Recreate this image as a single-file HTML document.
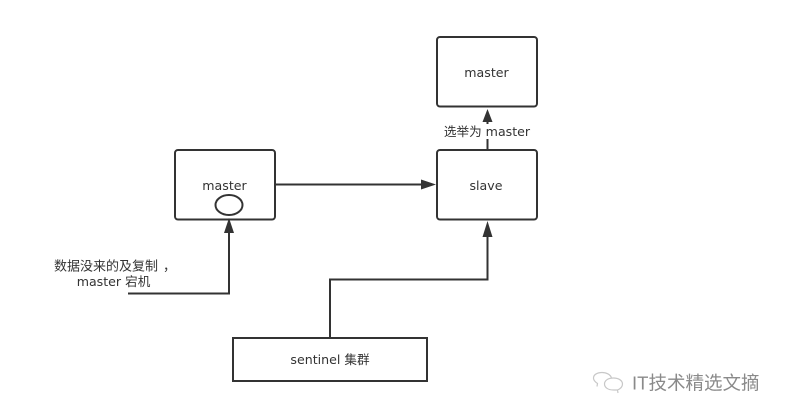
<!DOCTYPE html>
<html><head><meta charset="utf-8"><style>
html,body{margin:0;padding:0;background:#fff;width:786px;height:415px;overflow:hidden}
svg{display:block}
text{font-family:"DejaVu Sans","Noto Sans CJK SC",sans-serif;font-size:12.6px;fill:#333}
</style></head><body>
<svg width="786" height="415" viewBox="0 0 786 415" xmlns="http://www.w3.org/2000/svg">
<g fill="#fff" stroke="#333" stroke-width="2">
<rect x="437" y="37" width="100" height="69.500" rx="3"/>
<rect x="437" y="150" width="100" height="69.500" rx="3"/>
<rect x="175" y="150" width="100" height="69.500" rx="3"/>
<rect x="233" y="338" width="194" height="43"/>
<ellipse cx="229" cy="205" rx="13.500" ry="10"/>
</g>
<g fill="none" stroke="#333" stroke-width="2">
<path d="M487.500 150V122"/>
<path d="M275 184.500H422"/>
<path d="M128 293.500H229V232"/>
<path d="M330 338V279.500H487.500V236"/>
</g>
<g fill="#333">
<path d="M487.500 109L492.500 122H482.500Z"/>
<path d="M436 184.500L421 179.500V189.500Z"/>
<path d="M229 218L234 233H224Z"/>
<path d="M487.500 221L492.500 237H482.500Z"/>
</g>
<rect x="442" y="124" width="92" height="15" fill="#fff"/>
<g text-anchor="middle">
<text x="486.500" y="77">master</text>
<text x="487" y="136">选举为 master</text>
<text x="486" y="190">slave</text>
<text x="224.500" y="190">master</text>
<text x="113.500" y="286">master 宕机</text>
<text x="330" y="364">sentinel 集群</text>
</g>
<text x="54" y="270.500" style="font-size:13px">数据没来的及复制</text>
<text x="163" y="270.500" style="font-size:13px">，</text>
<g fill="none" stroke="#c8c8c8" stroke-width="1.200">
<path d="M597 386.500L597.500 383.500C594.500 381.500 593.500 379.500 593.500 378C593.500 374.500 597.500 372.500 602 372.500C606.500 372.500 610.500 374.500 611.500 378"/>
<path d="M618 393L617.500 390C621 388.500 622.500 386.500 622.500 384C622.500 380.500 618.500 378 613.500 378C608 378 604.500 380.500 604.500 384C604.500 387.500 608 390 613.500 390C614.500 390 616 390 617.500 390"/>
</g>
<text x="632" y="389.500" style="font-size:18.500px;fill:#8a8a8a;font-family:'Liberation Sans','Noto Sans CJK SC',sans-serif">IT技术精选文摘</text>
</svg>
</body></html>
